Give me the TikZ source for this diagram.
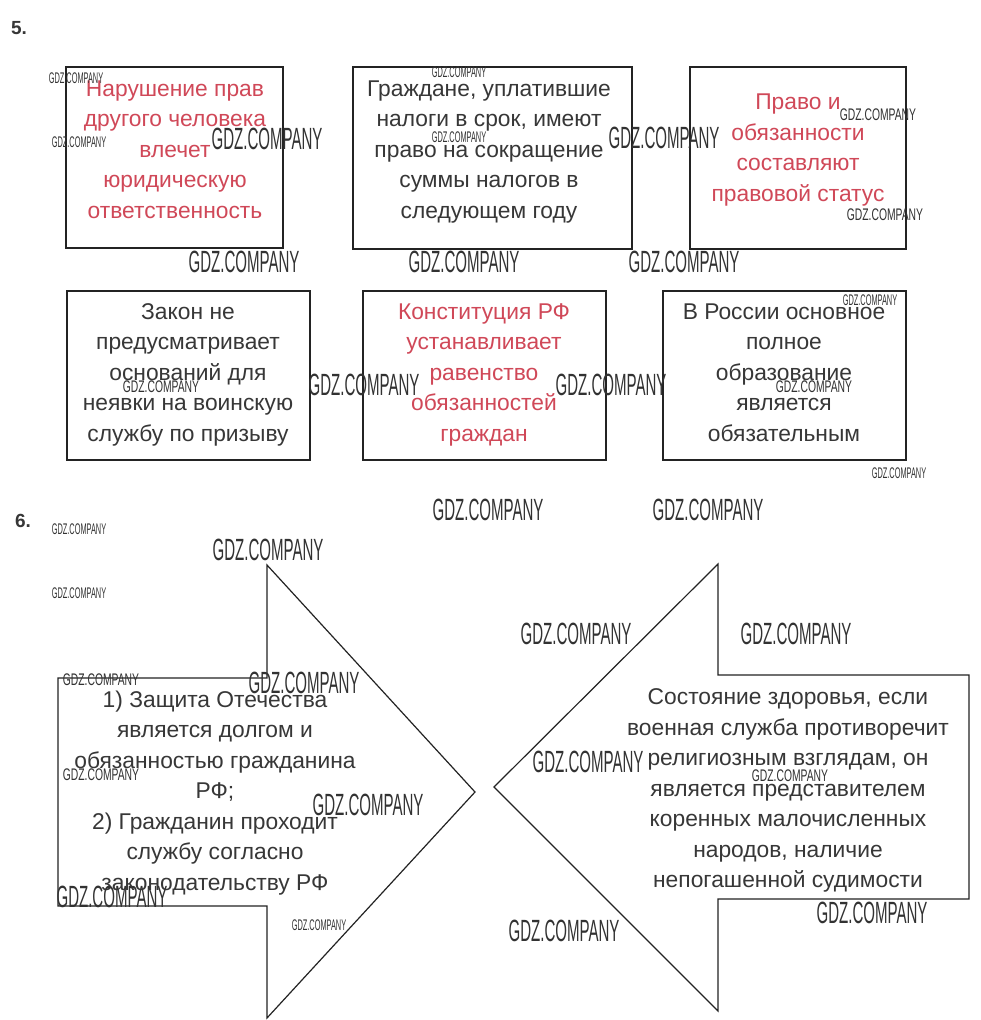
\documentclass[tikz,border=0pt]{standalone}
\usepackage{fontspec}
\setmainfont{Liberation Sans}
\usepackage{graphicx}
\definecolor{txtgray}{RGB}{55,55,55}
\definecolor{txtred}{RGB}{208,72,88}
\definecolor{wmgray}{RGB}{50,50,50}
\definecolor{linegray}{RGB}{35,35,35}
\newcommand\gdzL{\scalebox{0.49}[1]{\fontsize{30.7}{30.7}\selectfont GDZ.COMPANY}}
\newcommand\gdzM{\scalebox{0.615}[1]{\fontsize{16.8}{16.8}\selectfont GDZ.COMPANY}}
\newcommand\gdzS{\scalebox{0.48}[1]{\fontsize{15.4}{15.4}\selectfont GDZ.COMPANY}}
\begin{document}
\begin{tikzpicture}[x=1pt,y=-1pt,
  box/.style={draw=linegray, line width=2pt, inner sep=0pt, outer sep=0pt},
  txt/.style={align=center, inner sep=0pt, font=\fontsize{22.8}{30.5}\selectfont, text=txtgray,
    execute at begin node=\strut, execute at end node=\strut},
  redtxt/.style={txt, text=txtred},
  arrowline/.style={draw=linegray, line width=1.2pt, line join=miter},
  wm/.style={inner sep=0pt, text=wmgray},
  numlbl/.style={inner sep=0pt, font=\bfseries\fontsize{19}{19}\selectfont, text=txtgray}]
\useasboundingbox[fill=white] (0,0) rectangle (980,1020);

% section labels
\node[numlbl] (n5) at (19,28) {5.};
\node[numlbl] (n6) at (23,521) {6.};

% boxes of task 5
\node[box, minimum width=217pt, minimum height=181pt] (b1) at (174.5,157.5) {};
\node[box, minimum width=279pt, minimum height=182pt] (b2) at (492.5,158) {};
\node[box, minimum width=216pt, minimum height=182pt] (b3) at (798,158) {};
\node[box, minimum width=243pt, minimum height=169pt] (b4) at (188.5,375.5) {};
\node[box, minimum width=243pt, minimum height=169pt] (b5) at (484.5,375.5) {};
\node[box, minimum width=243pt, minimum height=169pt] (b6) at (784.5,375.5) {};

\node[redtxt] (t1) at (175,154) {Нарушение прав\\другого человека\\влечет\\юридическую\\ответственность};
\node[txt] (t2) at (489,154) {Граждане, уплатившие\\налоги в срок, имеют\\право на сокращение\\суммы налогов в\\следующем году};
\node[redtxt] (t3) at (798,152) {Право и\\обязанности\\составляют\\правовой статус};
\node[txt] (t4) at (188,377) {Закон не\\предусматривает\\оснований для\\неявки на воинскую\\службу по призыву};
\node[redtxt] (t5) at (484,377) {Конституция РФ\\устанавливает\\равенство\\обязанностей\\граждан};
\node[txt] (t6) at (784,377) {В России основное\\полное\\образование\\является\\обязательным};

% arrows of task 6
\draw[arrowline] (58,678) -- (267,678) -- (267,565) -- (475,792) -- (267,1018) -- (267,906) -- (58,906) -- cycle;
\draw[arrowline] (718,564) -- (718,675) -- (969,675) -- (969,899) -- (718,899) -- (718,1011) -- (494,787) -- cycle;

\node[txt] (t7) at (215,795) {1) Защита Отечества\\является долгом и\\обязанностью гражданина\\РФ;\\2) Гражданин проходит\\службу согласно\\законодательству РФ};
\node[txt] (t8) at (788,793) {Состояние здоровья, если\\военная служба противоречит\\религиозным взглядам, он\\является представителем\\коренных малочисленных\\народов, наличие\\непогашенной судимости};

% watermarks
\node[wm] (w1) at (267,139) {\gdzL};
\node[wm] (w2) at (244,262) {\gdzL};
\node[wm] (w3) at (464,262) {\gdzL};
\node[wm] (w4) at (664,138) {\gdzL};
\node[wm] (w5) at (684,262) {\gdzL};
\node[wm] (w6) at (364,385) {\gdzL};
\node[wm] (w7) at (611,385) {\gdzL};
\node[wm] (w8) at (488,510) {\gdzL};
\node[wm] (w9) at (708,510) {\gdzL};
\node[wm] (w10) at (268,550) {\gdzL};
\node[wm] (w11) at (576,634) {\gdzL};
\node[wm] (w12) at (796,634) {\gdzL};
\node[wm] (w13) at (304,683) {\gdzL};
\node[wm] (w14) at (588,762) {\gdzL};
\node[wm] (w15) at (368,805) {\gdzL};
\node[wm] (w16) at (112,897) {\gdzL};
\node[wm] (w17) at (872,913) {\gdzL};
\node[wm] (w18) at (564,931) {\gdzL};

\node[wm] (m1) at (878,115) {\gdzM};
\node[wm] (m2) at (885,215) {\gdzM};
\node[wm] (m3) at (161,387) {\gdzM};
\node[wm] (m4) at (814,387) {\gdzM};
\node[wm] (m5) at (101,680) {\gdzM};
\node[wm] (m6) at (101,775) {\gdzM};
\node[wm] (m7) at (790,776) {\gdzM};

\node[wm] (s1) at (76,78) {\gdzS};
\node[wm] (s2) at (79,142) {\gdzS};
\node[wm] (s3) at (459,72) {\gdzS};
\node[wm] (s4) at (459,137) {\gdzS};
\node[wm] (s5) at (870,300) {\gdzS};
\node[wm] (s6) at (899,473) {\gdzS};
\node[wm] (s7) at (79,529) {\gdzS};
\node[wm] (s8) at (79,593) {\gdzS};
\node[wm] (s9) at (319,925) {\gdzS};
\end{tikzpicture}
\end{document}
